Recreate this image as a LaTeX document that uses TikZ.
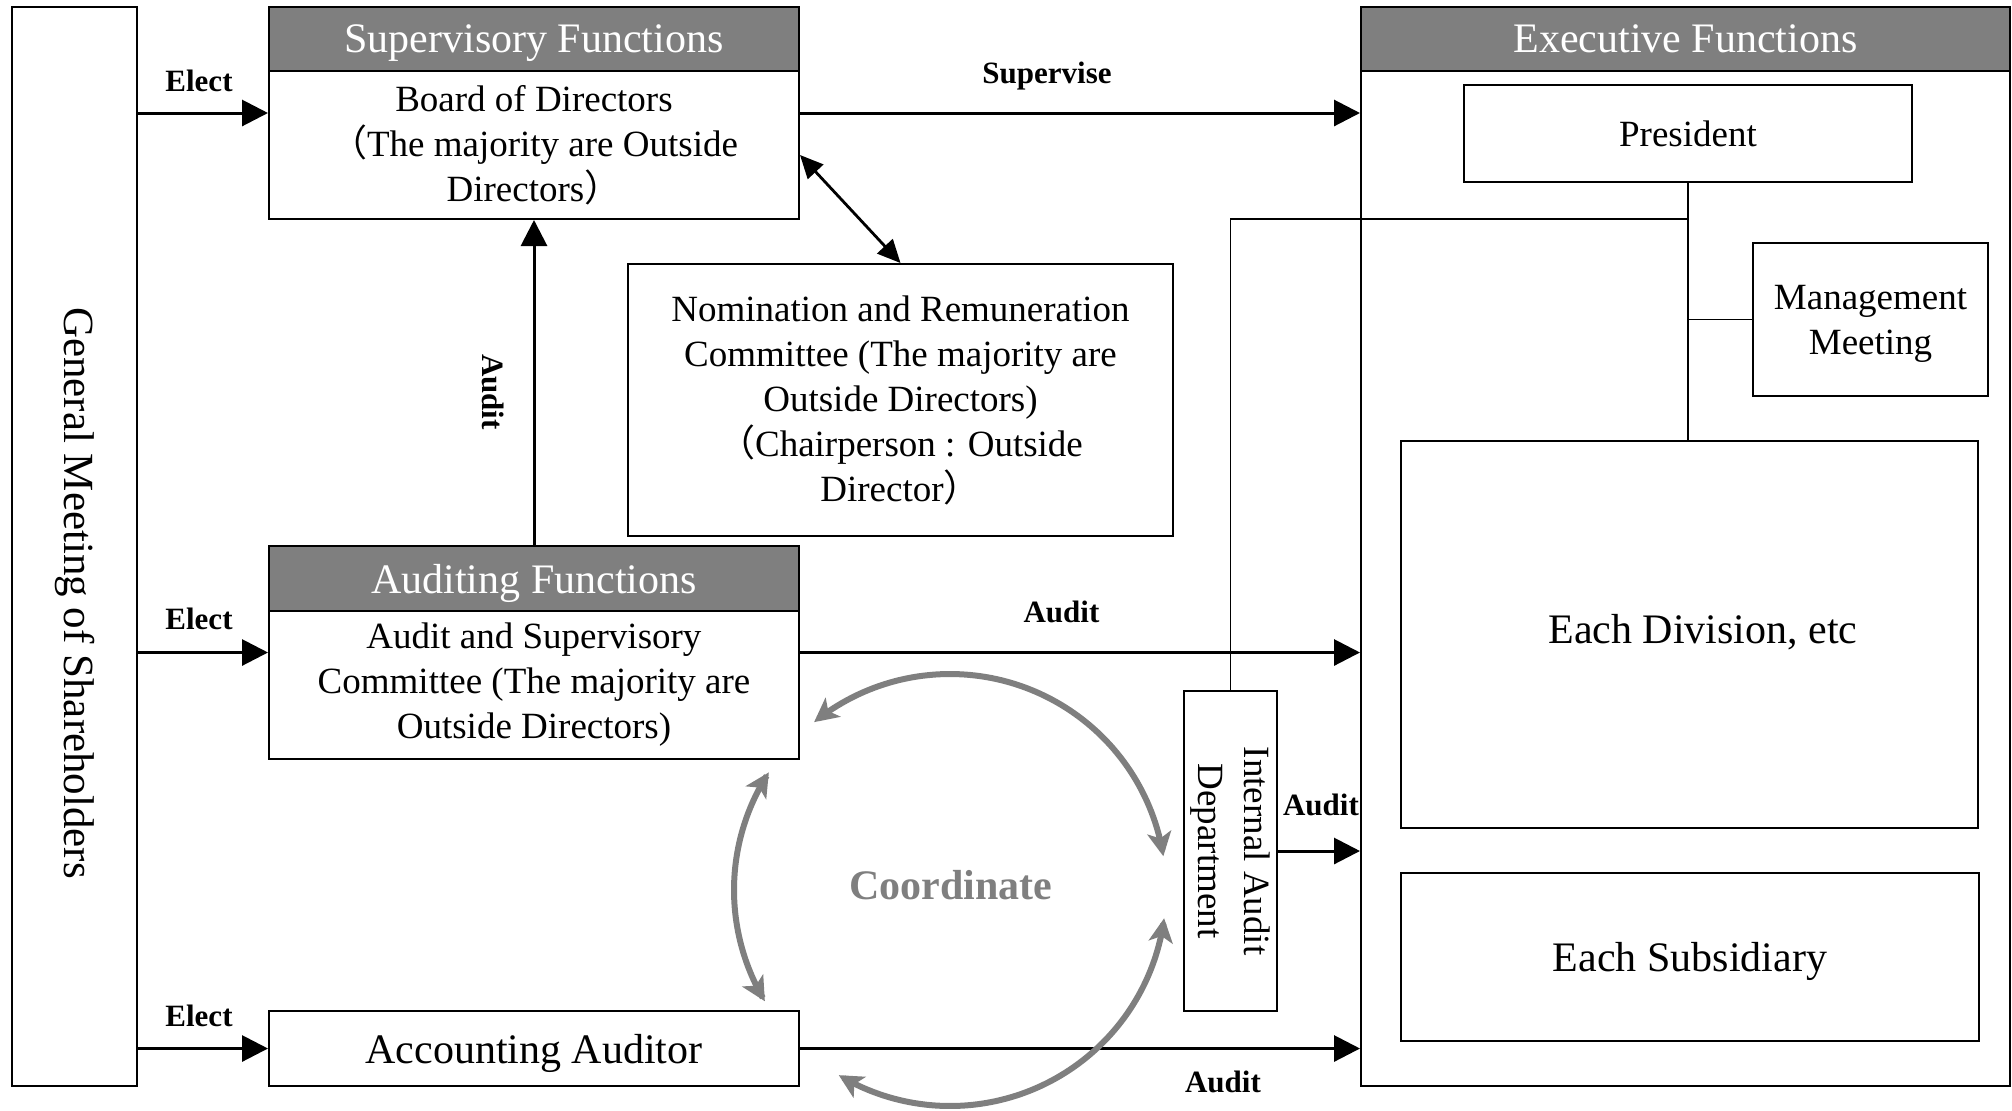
\documentclass[tikz,border=0pt]{standalone}
\usepackage{fontspec}
\setmainfont{Liberation Serif}
\newfontfamily\cjk{Noto Sans CJK JP}
\usetikzlibrary{arrows.meta,calc}
\definecolor{hdrgray}{HTML}{7F7F7F}
\begin{document}
\begin{tikzpicture}[x=0.5pt,y=-0.5pt,
  box/.style={draw,line width=1pt,inner sep=0pt,fill=white},
  hdr/.style={box,fill=hdrgray,text=white,font=\fontsize{21}{25}\selectfont,text depth=0pt},
  bodytxt/.style={align=center,font=\fontsize{18.5}{22.5}\selectfont},
  bigtxt/.style={font=\fontsize{21}{25}\selectfont,text depth=0pt},
  lbl/.style={inner sep=0pt,font=\bfseries\fontsize{15.5}{18}\selectfont},
  arr/.style={line width=1.5pt,-{Triangle[length=13pt,width=13pt]}},
  dbl/.style={line width=1.4pt,{Triangle[length=11.5pt,width=10.5pt]}-{Triangle[length=11.5pt,width=10.5pt]}},
  thinln/.style={line width=0.75pt},
  garr/.style={draw=hdrgray,line width=3pt,{Stealth[length=12pt,width=12pt,inset=3pt]}-{Stealth[length=12pt,width=12pt,inset=3pt]}},
]
\useasboundingbox (0,0) rectangle (2012,1110);

% General meeting
\node[box,minimum width=62.5pt,minimum height=539.5pt] (gm) at (74.5,546.5) {};
\node[rotate=-90,font=\fontsize{21.5}{26}\selectfont] (gmt) at (75,593) {General Meeting of Shareholders};

% Supervisory
\node[hdr,minimum width=265pt,minimum height=32pt] (suph) at (534,39) {Supervisory Functions};
\node[box,bodytxt,minimum width=265pt,minimum height=74pt] (board) at (534,145)
  {Board of Directors\\{\cjk （}The majority are Outside\\Directors{\cjk ）}};

% Auditing
\node[hdr,minimum width=265pt,minimum height=32.5pt] (audh) at (534,578.5) {Auditing Functions};
\node[box,bodytxt,minimum width=265pt,minimum height=74pt] (aud) at (534,685)
  {Audit and Supervisory\\Committee (The majority are\\Outside Directors)\rule[-4pt]{0pt}{4pt}};

% Accounting auditor
\node[box,bigtxt,minimum width=265pt,minimum height=37.5pt] (acc) at (534,1048.5) {Accounting Auditor};

% Nomination
\node[box,bodytxt,minimum width=272.5pt,minimum height=136pt] (nom) at (900.5,400)
  {Nomination and Remuneration\\Committee (The majority are\\Outside Directors)\\{\cjk （}Chairperson : Outside\\Director{\cjk ）}};

% Executive
\node[box,minimum width=324.5pt,minimum height=539.5pt] (exec) at (1685.5,546.5) {};
\node[hdr,minimum width=324.5pt,minimum height=32pt] (exech) at (1685.5,39) {Executive Functions};
\node[box,bodytxt,minimum width=224pt,minimum height=48.5pt] (pres) at (1688,133.5) {President};
\node[box,bodytxt,minimum width=117.5pt,minimum height=76.5pt,text depth=0pt] (mm) at (1870.5,319.5) {Management\\Meeting};
\node[box,minimum width=288.5pt,minimum height=193.5pt] (div) at (1689.5,634.5) {};
\node[bigtxt] (divt) at (1703,629) {Each Division, etc};
\node[box,bigtxt,minimum width=289pt,minimum height=84pt] (sub) at (1690,957) {Each Subsidiary};

% Internal audit
\node[box,minimum width=46.5pt,minimum height=160pt] (iad) at (1230.5,851) {};
\node[rotate=-90,align=center,font=\fontsize{18.5}{23}\selectfont] (iadt) at (1230.5,851) {Internal Audit\\Department};

% connectors inside executive
\coordinate (j1) at ($(pres.south)+(0,36)$);
\draw[thinln] (pres.south) -- (pres.south |- div.north);
\draw[thinln] (j1) -| (iad.north);
\draw[thinln] (mm.west) -- (pres.south |- mm.west);

% mid points of groups
\coordinate (supW) at ($(suph.north west)!0.5!(board.south west)$);
\coordinate (supE) at ($(suph.north east)!0.5!(board.south east)$);
\coordinate (audW) at ($(audh.north west)!0.5!(aud.south west)$);
\coordinate (audE) at ($(audh.north east)!0.5!(aud.south east)$);

% arrows
\draw[arr] (gm.east |- supW) -- (supW);
\draw[arr] (gm.east |- audW) -- (audW);
\draw[arr] (gm.east |- acc.west) -- (acc.west);
\draw[arr] (supE) -- (exec.west |- supE);
\draw[arr] (audE) -- (exec.west |- audE);
\draw[arr] (acc.east) -- (exec.west |- acc.east);
\draw[arr] (iad.east) -- (exec.west |- iad.east);
\draw[arr] (audh.north) -- (board.south);
\draw[dbl] ([yshift=-5pt]board.east) -- (nom.north);

% labels
\node[lbl] (le1) at (199,81) {Elect};
\node[lbl] (le2) at (199,619) {Elect};
\node[lbl] (le3) at (199,1015.5) {Elect};
\node[lbl] (lsup) at (1047,76) {Supervise};
\node[lbl] (la1) at (1061.5,612) {Audit};
\node[lbl] (la2) at (1321,805) {Audit};
\node[lbl] (la3) at (1223,1082) {Audit};
\node[lbl,rotate=-90] (la4) at (493,392) {Audit};

% coordinate arcs
\draw[garr] plot[domain=-129:-9,samples=80,variable=\t] ({950+216*cos(\t)},{890+216*sin(\t)});
\draw[garr] plot[domain=7.5:121,samples=80,variable=\t] ({950+216*cos(\t)},{890+216*sin(\t)});
\draw[garr] plot[domain=149:213,samples=60,variable=\t] ({950+216*cos(\t)},{890+216*sin(\t)});
\node[text=hdrgray,font=\bfseries\fontsize{21}{25}\selectfont] (coord) at (951,885) {Coordinate};
\end{tikzpicture}
\end{document}
